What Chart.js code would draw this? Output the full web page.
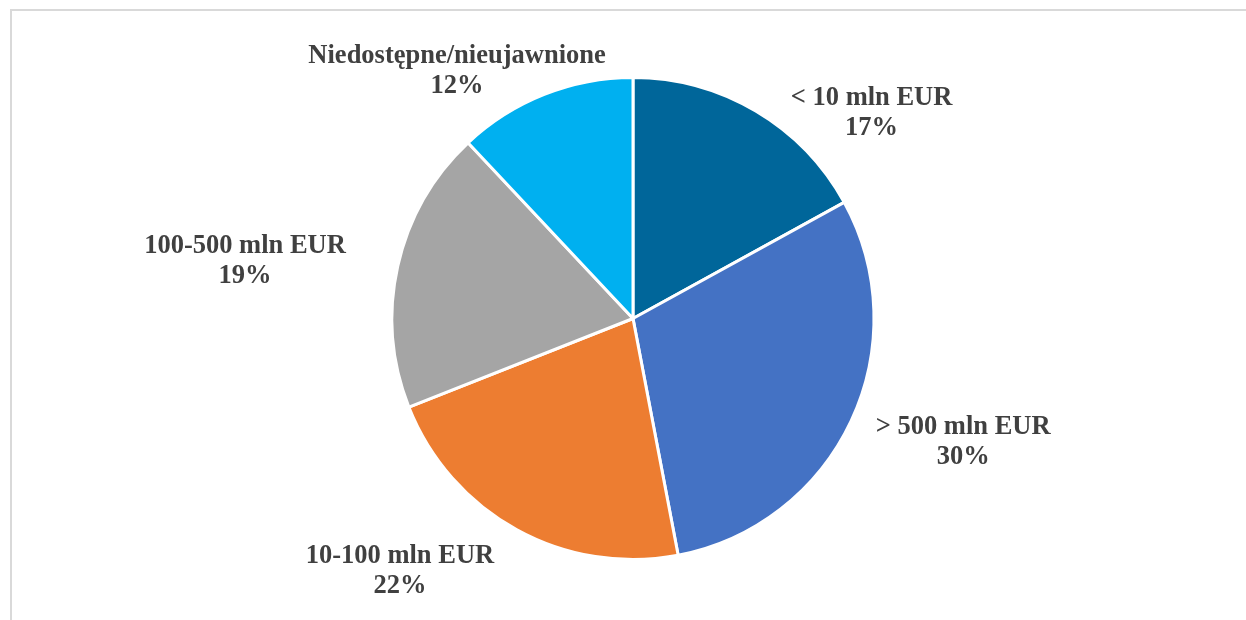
<!DOCTYPE html>
<html>
<head>
<meta charset="utf-8">
<script src="https://cdn.jsdelivr.net/npm/chart.js@4"></script>
<style>
    html, body {
        margin: 0;
        padding: 0;
        background: #ffffff;
        overflow: hidden;
    }
    #frame {
        position: absolute;
        left: 10px;
        top: 9px;
        width: 1260px;
        height: 640px;
        border: 2px solid #d9d9d9;
        box-sizing: border-box;
    }
    #wrap {
        position: absolute;
        left: 0;
        top: 0;
        width: 1246px;
        height: 620px;
    }
</style>
</head>
<body>
<div id="frame"></div>
<div id="wrap"><canvas id="pie"></canvas></div>
<script>
const categories = ['< 10 mln EUR', '> 500 mln EUR', '10-100 mln EUR', '100-500 mln EUR', 'Niedostępne/nieujawnione'];
const shares = [17, 30, 22, 19, 12];
const sliceColors = ['#00669a', '#4472c4', '#ed7d31', '#a5a5a5', '#00b0f0'];

// where each label sits, relative to the pie centre, in units of the radius
const labelOffsets = [
    [0.99, -0.85],
    [1.37, 0.515],
    [-0.967, 1.05],
    [-1.61, -0.237],
    [-0.73, -1.025]
];

const outsideLabels = {
    id: 'outsideLabels',
    afterDatasetsDraw(chart) {
        const ctx = chart.ctx;
        const arcs = chart.getDatasetMeta(0).data;
        ctx.save();
        ctx.fillStyle = '#404040';
        ctx.font = 'bold 26.5px "Liberation Serif", "Times New Roman", serif';
        ctx.textAlign = 'center';
        ctx.textBaseline = 'middle';
        arcs.forEach((arc, i) => {
            const r = arc.outerRadius;
            const x = arc.x + labelOffsets[i][0] * r;
            const y = arc.y + labelOffsets[i][1] * r;
            ctx.fillText(categories[i], x, y - 15);
            ctx.fillText(shares[i] + '%', x, y + 15);
        });
        ctx.restore();
    }
};

new Chart(document.getElementById('pie'), {
    type: 'pie',
    data: {
        labels: categories,
        datasets: [{
            data: shares,
            backgroundColor: sliceColors,
            borderColor: '#ffffff',
            borderWidth: 3
        }]
    },
    options: {
        responsive: true,
        maintainAspectRatio: false,
        animation: false,
        layout: {
            padding: { left: 20, right: 0, top: 76, bottom: 59 }
        },
        plugins: {
            legend: { display: false },
            tooltip: { enabled: false }
        }
    },
    plugins: [outsideLabels]
});
</script>
</body>
</html>
